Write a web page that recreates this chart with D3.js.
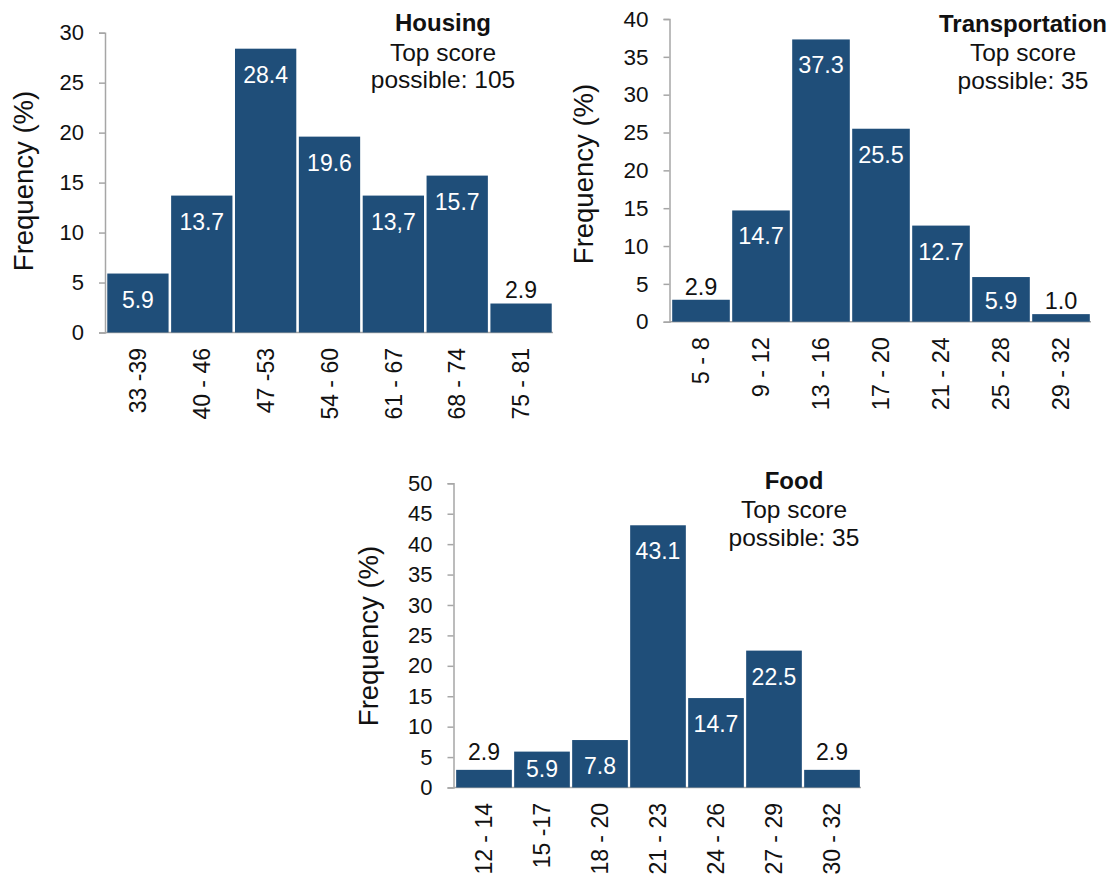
<!DOCTYPE html>
<html>
<head>
<meta charset="utf-8">
<script src="https://cdn.jsdelivr.net/npm/d3@7"></script>
<style>
  html, body { margin: 0; padding: 0; background: #ffffff; }
  svg { display: block; font-family: "Liberation Sans", Arial, sans-serif; }
</style>
</head>
<body>
<svg id="chart" width="1115" height="878"></svg>
<script>
// ---------- data ----------
const housingBins = ["33 -39", "40 - 46", "47 -53", "54 - 60", "61 - 67", "68 - 74", "75 - 81"];
const housingValues = [5.9, 13.7, 28.4, 19.6, 13.7, 15.7, 2.9];
const housingLabels = ["5.9", "13.7", "28.4", "19.6", "13,7", "15.7", "2.9"];
const housingTicks = [0, 5, 10, 15, 20, 25, 30];
const housingTitle = ["Housing", "Top score", "possible: 105"];

const transportBins = ["5 - 8", "9 - 12", "13 - 16", "17 - 20", "21 - 24", "25 - 28", "29 - 32"];
const transportValues = [2.9, 14.7, 37.3, 25.5, 12.7, 5.9, 1.0];
const transportLabels = ["2.9", "14.7", "37.3", "25.5", "12.7", "5.9", "1.0"];
const transportTicks = [0, 5, 10, 15, 20, 25, 30, 35, 40];
const transportTitle = ["Transportation", "Top score", "possible: 35"];

const foodBins = ["12 - 14", "15 -17", "18 - 20", "21 - 23", "24 - 26", "27 - 29", "30 - 32"];
const foodValues = [2.9, 5.9, 7.8, 43.1, 14.7, 22.5, 2.9];
const foodLabels = ["2.9", "5.9", "7.8", "43.1", "14.7", "22.5", "2.9"];
const foodTicks = [0, 5, 10, 15, 20, 25, 30, 35, 40, 45, 50];
const foodTitle = ["Food", "Top score", "possible: 35"];

const yAxisTitle = "Frequency (%)";

// ---------- layout / style ----------
const BAR = "#1f4e79";
const AXIS = "#a6a6a6";
const TEXT = "#111111";

const panels = [
  { bins: housingBins, values: housingValues, labels: housingLabels, ticks: housingTicks, title: housingTitle,
    axisX: 105, xRange: [106, 553], yRange: [332.5, 32.7],
    ylabel: { x: 23, y: 181 }, titleX: 443, titleY: [30.7, 60.5, 88],
    font: 22, outOff: 6 },
  { bins: transportBins, values: transportValues, labels: transportLabels, ticks: transportTicks, title: transportTitle,
    axisX: 669.5, xRange: [671, 1091], yRange: [321.7, 19],
    ylabel: { x: 583, y: 174 }, titleX: 1023, titleY: [31.7, 60.5, 88.5],
    font: 22.5, outOff: 5 },
  { bins: foodBins, values: foodValues, labels: foodLabels, ticks: foodTicks, title: foodTitle,
    axisX: 453.5, xRange: [455, 861], yRange: [787.5, 483.3],
    ylabel: { x: 368, y: 636 }, titleX: 794, titleY: [489, 518, 546],
    font: 22, outOff: 10 }
];

const svg = d3.select("#chart");
svg.append("rect").attr("width", 1115).attr("height", 878).attr("fill", "#fff");

panels.forEach(p => {
  const g = svg.append("g");
  const maxV = p.ticks[p.ticks.length - 1];
  const y = d3.scaleLinear().domain([0, maxV]).range(p.yRange);
  const x = d3.scaleBand().domain(p.bins).range(p.xRange).paddingInner(0.04).paddingOuter(0.02);
  const y0 = y(0);

  // x axis baseline
  g.append("line")
    .attr("x1", p.axisX).attr("x2", p.xRange[1])
    .attr("y1", y0).attr("y2", y0)
    .attr("stroke", AXIS).attr("stroke-width", 1.5);

  // y axis
  const yAxis = d3.axisLeft(y).tickValues(p.ticks).tickSize(6).tickPadding(15).tickFormat(d3.format("d"));
  const ya = g.append("g").attr("transform", `translate(${p.axisX},0)`).call(yAxis);
  ya.select(".domain").attr("stroke", AXIS).attr("stroke-width", 1.5);
  ya.selectAll(".tick line").attr("stroke", AXIS).attr("stroke-width", 1.5);
  ya.selectAll(".tick text").attr("fill", TEXT).style("font-size", p.font + "px")
    .style("font-family", '"Liberation Sans", Arial, sans-serif');

  // bars
  const data = p.bins.map((b, i) => ({ bin: b, v: p.values[i], label: p.labels[i] }));
  g.selectAll("rect.bar").data(data).enter().append("rect")
    .attr("class", "bar")
    .attr("x", d => x(d.bin))
    .attr("width", x.bandwidth())
    .attr("y", d => y(d.v))
    .attr("height", d => y0 - y(d.v))
    .attr("fill", BAR);

  // value labels
  g.selectAll("text.val").data(data).enter().append("text")
    .attr("class", "val")
    .attr("x", d => x(d.bin) + x.bandwidth() / 2)
    .attr("y", d => {
      const top = y(d.v), h = y0 - top;
      return d.v < 4 ? top - p.outOff : top + Math.min(34, h * 0.72);
    })
    .attr("text-anchor", "middle")
    .attr("fill", d => d.v < 4 ? TEXT : "#ffffff")
    .style("font-size", (p.font + 1) + "px")
    .text(d => d.label);

  // x tick labels (rotated)
  const xAxis = d3.axisBottom(x).tickSize(0).tickPadding(0);
  const xa = g.append("g").attr("transform", `translate(0,${y0})`).call(xAxis);
  xa.select(".domain").remove();
  xa.selectAll(".tick text")
    .attr("transform", "rotate(-90)")
    .attr("x", -15.5).attr("y", 0).attr("dy", "0.36em")
    .attr("text-anchor", "end")
    .attr("fill", TEXT)
    .style("font-size", (p.font + 1) + "px")
    .style("font-family", '"Liberation Sans", Arial, sans-serif');

  // y axis title
  g.append("text")
    .attr("transform", `translate(${p.ylabel.x},${p.ylabel.y}) rotate(-90)`)
    .attr("text-anchor", "middle").attr("dy", "0.35em")
    .attr("fill", TEXT).style("font-size", "27.5px")
    .text(yAxisTitle);

  // title block
  p.title.forEach((t, i) => {
    g.append("text")
      .attr("x", p.titleX).attr("y", p.titleY[i])
      .attr("text-anchor", "middle")
      .attr("fill", TEXT)
      .style("font-size", i === 0 ? "24px" : "24.5px")
      .style("font-weight", i === 0 ? "bold" : "normal")
      .text(t);
  });
});
</script>
</body>
</html>
